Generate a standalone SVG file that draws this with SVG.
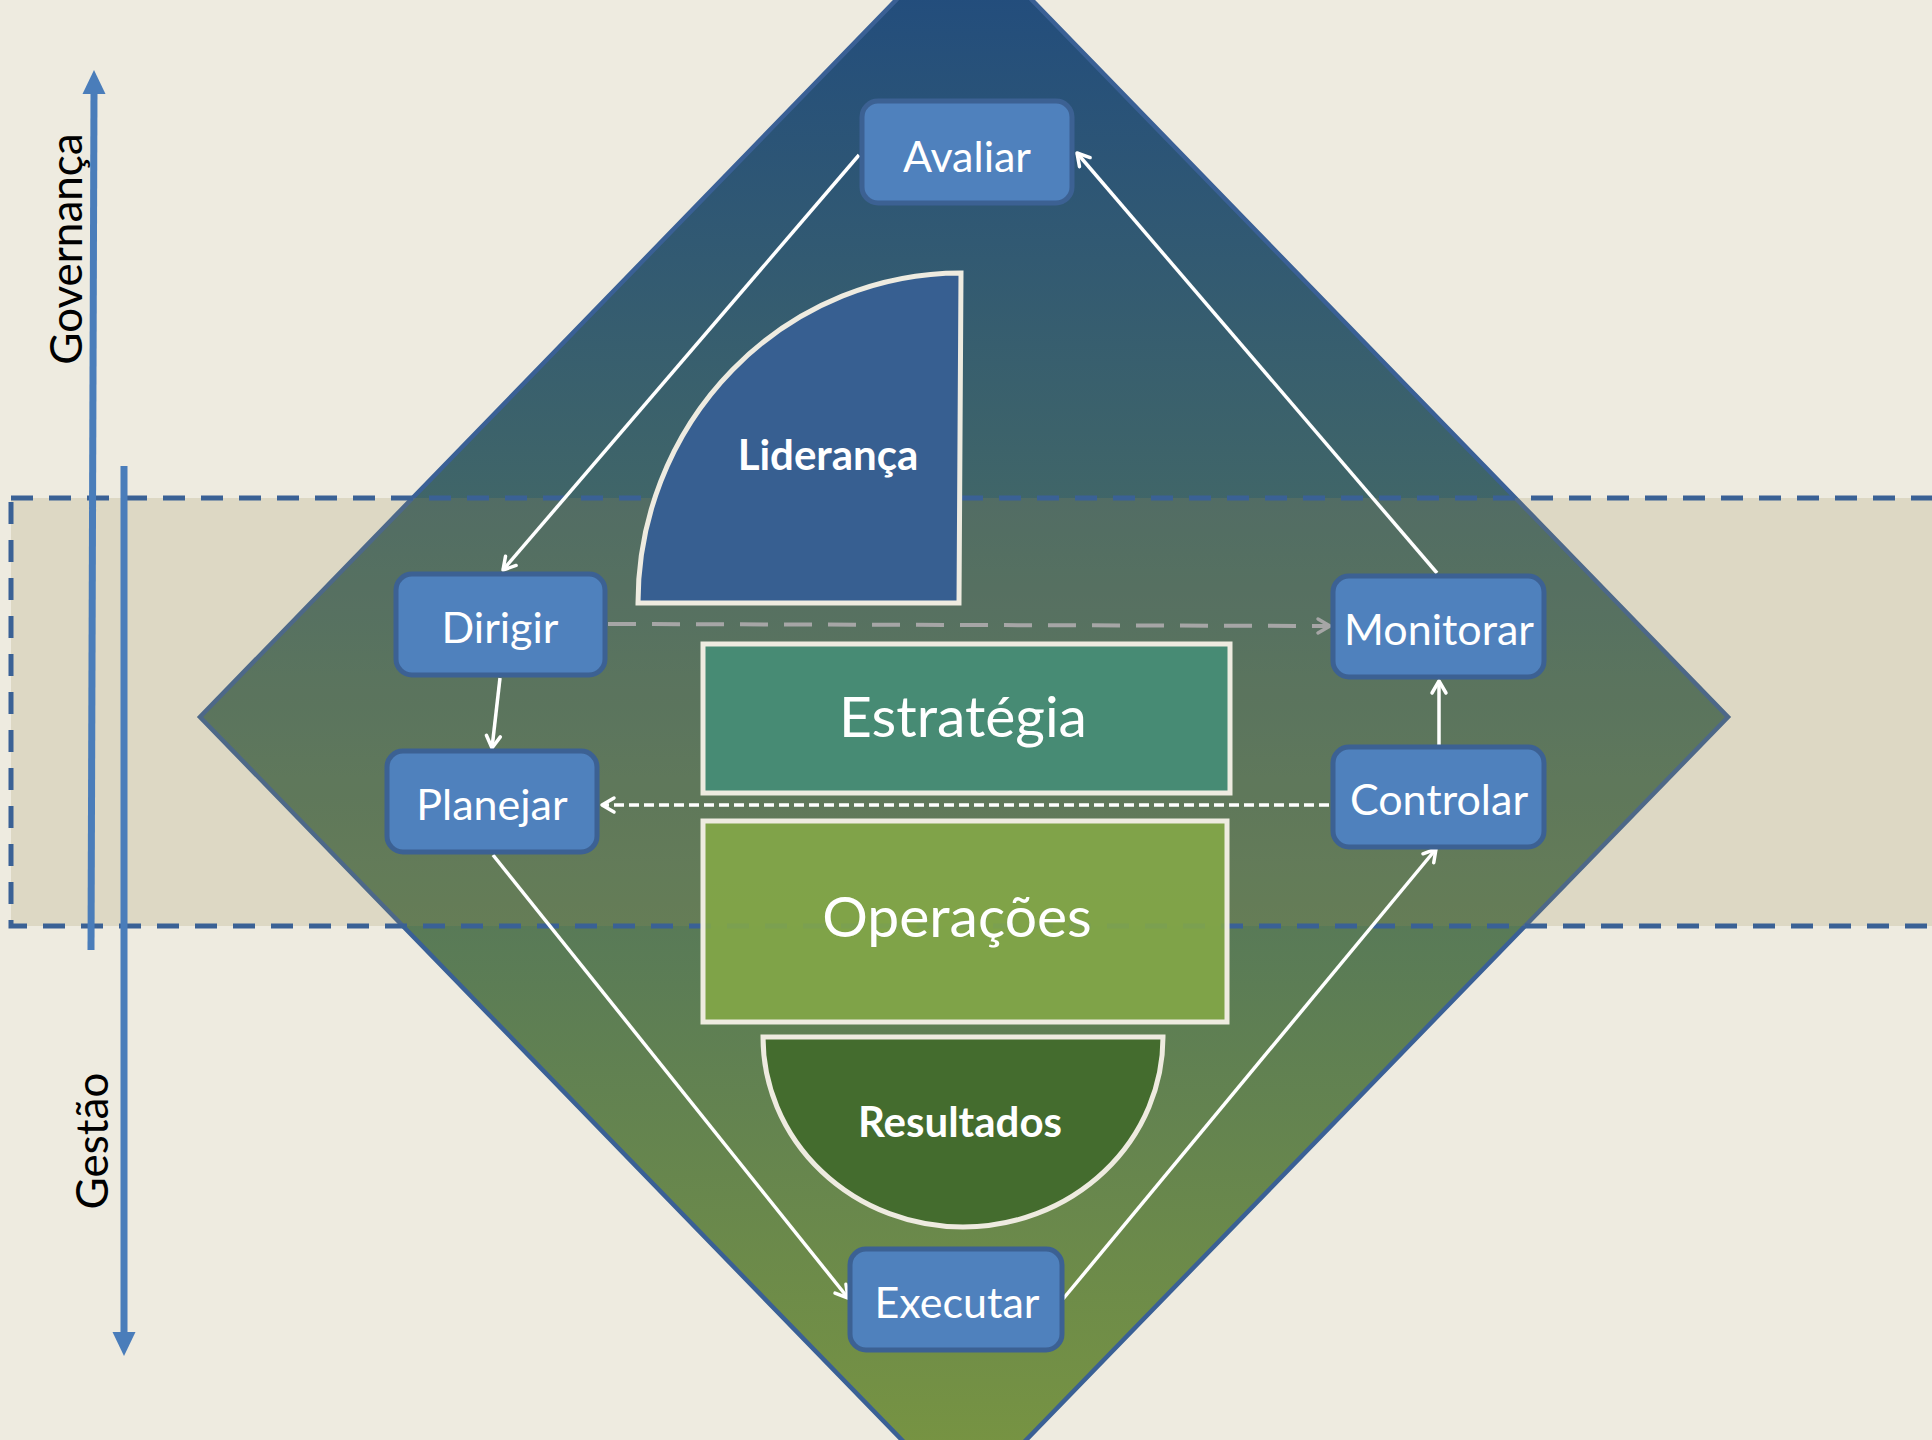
<svg xmlns="http://www.w3.org/2000/svg" width="1932" height="1440" viewBox="0 0 1932 1440">
<defs>
<linearGradient id="dg" gradientUnits="userSpaceOnUse" x1="0" y1="-70" x2="0" y2="1504">
<stop offset="0" stop-color="#1F4A7F"/>
<stop offset="1" stop-color="#7A9640"/>
</linearGradient>
<marker id="ah" markerUnits="userSpaceOnUse" markerWidth="20" markerHeight="20" viewBox="0 0 20 20" refX="17" refY="10" orient="auto">
<path d="M5,3 L17,10 L5,17" fill="none" stroke="#FFFFFF" stroke-width="3.5" stroke-linecap="round" stroke-linejoin="round"/>
</marker>
<marker id="ahg" markerUnits="userSpaceOnUse" markerWidth="20" markerHeight="20" viewBox="0 0 20 20" refX="17" refY="10" orient="auto">
<path d="M5,3 L17,10 L5,17" fill="none" stroke="#A6A6A6" stroke-width="3.5" stroke-linecap="round" stroke-linejoin="round"/>
</marker>
<style>
.node rect{fill:#4F81BD;stroke:#3C6193;stroke-width:5}
.nt{font-family:Lato,"Open Sans",sans-serif;font-size:43px;fill:#FFFFFF;text-anchor:middle}
.big{font-family:Lato,"Open Sans",sans-serif;font-size:57px;fill:#FFFFFF;text-anchor:middle}
.bold{font-family:Lato,"Open Sans",sans-serif;font-weight:bold;font-size:42px;fill:#FFFFFF;text-anchor:middle}
.shape{stroke:#EEEBE0;stroke-width:5}
.axis{font-family:Lato,"Open Sans",sans-serif;font-size:44px;fill:#000000;text-anchor:middle}
.con{fill:none;stroke:#FFFFFF;stroke-width:3.5;marker-end:url(#ah)}
</style>
</defs>
<rect x="0" y="0" width="1932" height="1440" fill="#EEEBE0"/>
<g id="diamond">
<polygon points="964,-70 1728,717 964,1504 200,717" fill="url(#dg)" stroke="#3A6095" stroke-width="4.5"/>
</g>
<g id="band">
<rect x="11" y="498" width="1960" height="428" fill="#998C55" fill-opacity="0.2" stroke="#3A6195" stroke-width="5" stroke-dasharray="22 16"/>
</g>
<g id="lideranca">
<path class="shape" d="M638,603 A323,330 0 0 1 961,273 L959,603 Z" fill="#375F91"/>
<text class="bold" x="828" y="470" font-size="42">Liderança</text>
</g>
<g id="estrategia">
<rect class="shape" x="703" y="644" width="527" height="149" fill="#478B74"/>
<text class="big" x="963" y="737">Estratégia</text>
</g>
<g id="operacoes">
<rect class="shape" x="703" y="821" width="524" height="201" fill="#84A847" fill-opacity="0.88"/>
<text class="big" x="957" y="937">Operações</text>
</g>
<g id="resultados">
<path class="shape" d="M763,1037 L1163,1037 A200,190 0 0 1 763,1037 Z" fill="#446C2E"/>
<text class="bold" x="960" y="1137" font-size="45">Resultados</text>
</g>
<g id="connectors">
<line class="con" x1="859" y1="155" x2="503" y2="570"/>
<line class="con" x1="500" y1="678" x2="492" y2="748"/>
<line class="con" x1="493" y1="855" x2="848" y2="1298"/>
<line class="con" x1="1063" y1="1299" x2="1436" y2="849"/>
<line class="con" x1="1439" y1="745" x2="1439" y2="681"/>
<line class="con" x1="1437" y1="573" x2="1077" y2="153"/>
<line x1="608" y1="624" x2="1330" y2="626" fill="none" stroke="#A6A6A6" stroke-width="4" stroke-dasharray="28 16" marker-end="url(#ahg)"/>
<line x1="1329" y1="805" x2="602" y2="805" fill="none" stroke="#FFFFFF" stroke-width="3.5" stroke-dasharray="10 5" marker-end="url(#ah)"/>
</g>
<g id="avaliar" class="node">
<rect x="862" y="101" width="210" height="102" rx="16"/>
<text class="nt" x="967" y="172">Avaliar</text>
</g>
<g id="dirigir" class="node">
<rect x="396" y="574" width="209" height="101" rx="16"/>
<text class="nt" x="500" y="643">Dirigir</text>
</g>
<g id="planejar" class="node">
<rect x="387" y="751" width="210" height="101" rx="16"/>
<text class="nt" x="492" y="820">Planejar</text>
</g>
<g id="monitorar" class="node">
<rect x="1333" y="576" width="211" height="101" rx="16"/>
<text class="nt" x="1439" y="645">Monitorar</text>
</g>
<g id="controlar" class="node">
<rect x="1333" y="747" width="211" height="100" rx="16"/>
<text class="nt" x="1439" y="815">Controlar</text>
</g>
<g id="executar" class="node">
<rect x="850" y="1249" width="212" height="101" rx="16"/>
<text class="nt" x="957" y="1318">Executar</text>
</g>
<g id="governanca">
<line x1="91" y1="950" x2="94" y2="92" stroke="#4A7DBA" stroke-width="7"/>
<polygon points="94,70 82.5,94 105.5,94" fill="#4A7DBA"/>
<text class="axis" transform="translate(82,249) rotate(-90)">Governança</text>
</g>
<g id="gestao">
<line x1="124" y1="466" x2="124" y2="1334" stroke="#4A7DBA" stroke-width="7"/>
<polygon points="124,1356 112.5,1332 135.5,1332" fill="#4A7DBA"/>
<text class="axis" transform="translate(108,1141) rotate(-90)">Gestão</text>
</g>
</svg>
